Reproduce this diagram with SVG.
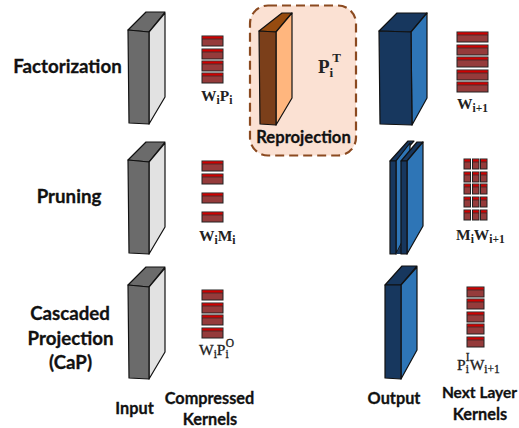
<svg xmlns="http://www.w3.org/2000/svg" width="519" height="428" viewBox="0 0 519 428">
<style>
.l{font-family:Lato,"Open Sans",sans-serif;font-weight:700;fill:#111;stroke:#111;stroke-width:.3;font-size:18.7px;text-anchor:middle}
.c{font-size:16.300px}
.m{font-family:"Liberation Serif",serif;font-weight:700;fill:#222;font-size:15.500px}
.r{font-weight:400;stroke:#222;stroke-width:.3;font-size:15.500px}
.s{font-size:11.500px}
.e{stroke:#111;stroke-width:1.2;stroke-linejoin:round}
.gf{fill:#6b6b6b}.gt{fill:#6b6b6b}.gs{fill:#e2e2e2}
.bf{fill:#17375e}.bt{fill:#17375e}.bs{fill:#2e75b6}
.kb{fill:#953b3b;stroke:#222;stroke-width:1}
.kt{fill:#d00000}
</style>
<defs>
<g id="k"><rect class="kb" width="21" height="10"/><rect class="kt" x="0.5" y="0.5" width="20" height="2.200"/><path d="M0 3H21" stroke="#222" stroke-width=".6"/></g>
<g id="kl"><rect class="kb" width="31" height="10"/><rect class="kt" x="0.5" y="0.5" width="30" height="2.200"/><path d="M0 3H31" stroke="#222" stroke-width=".6"/></g>
<g id="kn"><rect class="kb" width="17" height="10"/><rect class="kt" x="0.5" y="0.5" width="16" height="2.200"/><path d="M0 3H17" stroke="#222" stroke-width=".6"/></g>
<g id="ks"><rect class="kb" width="6.500" height="10"/><rect class="kt" x="0.5" y="0.5" width="5.500" height="2.200"/><path d="M0 3H6.500" stroke="#222" stroke-width=".6"/></g>
<g id="ksr"><use href="#ks" x="0"/><use href="#ks" x="8.500"/><use href="#ks" x="16.500"/></g>
<g id="gb">
<path class="gt e" d="M128 30L146 12H165L149 32Z"/>
<path class="gs e" d="M149 32L165 13V97L149 124Z"/>
<path class="gf e" d="M128 30L149 32V124L129 123Z"/>
</g>
</defs>
<g id="row-labels">
<text class="l" x="67.500" y="73">Factorization</text>
<text class="l" x="69" y="203">Pruning</text>
<text class="l" x="70" y="320">Cascaded</text>
<text class="l" x="70.500" y="345">Projection</text>
<text class="l" x="70.500" y="369">(CaP)</text>
</g>
<g id="input-factorization"><use href="#gb"/></g>
<g id="input-pruning"><use href="#gb" y="130"/></g>
<g id="input-cap"><use href="#gb" y="255"/></g>
<g id="kernels-wp">
<use href="#k" x="202" y="36"/><use href="#k" x="202" y="49"/><use href="#k" x="202" y="61"/><use href="#k" x="202" y="73"/>
<text class="m" x="201" y="101">W<tspan class="s" dy="3">i</tspan><tspan dy="-3">P</tspan><tspan class="s" dy="3">i</tspan></text>
</g>
<g id="kernels-wm">
<use href="#k" x="202" y="161"/><use href="#k" x="202" y="174"/><use href="#k" x="202" y="193"/><use href="#k" x="202" y="212"/>
<text class="m" x="199" y="241">W<tspan class="s" dy="3">i</tspan><tspan dy="-3">M</tspan><tspan class="s" dy="3">i</tspan></text>
</g>
<g id="kernels-wpo">
<use href="#k" x="202" y="290"/><use href="#k" x="202" y="303"/><use href="#k" x="202" y="315"/><use href="#k" x="202" y="328"/>
<text class="m r" x="199" y="355">W<tspan class="s" dy="3">i</tspan><tspan dy="-3">P</tspan><tspan class="s" dy="3">i</tspan><tspan class="s" dx="-3" dy="-11">O</tspan></text>
</g>
<g id="reprojection">
<rect x="250" y="5.500" width="106" height="150" rx="18" fill="#fbe1d3" stroke="#8b4a20" stroke-width="2.200" stroke-dasharray="9 5"/>
<path class="e" fill="#964b0f" d="M259 31L282 13H292L276 32Z"/>
<path class="e" fill="#ffb67e" d="M276 32L292 13V98L276 125Z"/>
<path class="e" fill="#7b3f1a" d="M259 31L276 32V125L260 124Z"/>
<text class="m" x="318" y="73" style="font-size:19px">P<tspan style="font-size:13px" dy="4">i</tspan><tspan style="font-size:13px" dy="-15" dx="-1">T</tspan></text>
<text class="l" x="303.500" y="143" style="font-size:16.600px">Reprojection</text>
</g>
<g id="output-factorization">
<path class="bt e" d="M379 31L397 13H427L411 32Z"/>
<path class="bs e" d="M411 32L427 13V98L412 125Z"/>
<path class="bf e" d="M379 31L411 32L412 125L380 124Z"/>
</g>
<g id="output-pruning">
<path class="bt e" d="M390 161L408 141H414L396 161Z"/>
<path class="bs e" d="M396 161L410 143V226L396 254Z"/>
<path class="bf e" d="M390 161L396 161V254H390Z"/>
<path class="bf" d="M396 254L401 245V254Z"/>
<path class="bt e" d="M401 161L417 142H423L407 161Z"/>
<path class="bs e" d="M407 161L423 142V226L407 254Z"/>
<path class="bf e" d="M401 161H407V254H401Z"/>
</g>
<g id="output-cap">
<path class="bt e" d="M385 285L402 266H417L401 285Z"/>
<path class="bs e" d="M401 285L417 267V350L401 379Z"/>
<path class="bf e" d="M385 285H401V379L385 378Z"/>
</g>
<g id="kernels-w">
<use href="#kl" x="457" y="32"/><use href="#kl" x="457" y="45"/><use href="#kl" x="457" y="57"/><use href="#kl" x="457" y="70"/><use href="#kl" x="457" y="82"/>
<text class="m" x="457" y="109">W<tspan class="s" dy="3">i+1</tspan></text>
</g>
<g id="kernels-mw">
<use href="#ksr" x="464" y="159"/><use href="#ksr" x="464" y="172"/><use href="#ksr" x="464" y="184"/><use href="#ksr" x="464" y="197"/><use href="#ksr" x="464" y="210"/>
<text class="m" x="456" y="240">M<tspan class="s" dy="3">i</tspan><tspan dy="-3">W</tspan><tspan class="s" dy="3">i+1</tspan></text>
</g>
<g id="kernels-pw">
<use href="#kn" x="467" y="287"/><use href="#kn" x="467" y="299"/><use href="#kn" x="467" y="312"/><use href="#kn" x="467" y="324"/><use href="#kn" x="467" y="337"/>
<text class="m r" x="457" y="370">P<tspan class="s" dy="3">i</tspan><tspan class="s" dx="-3" dy="-12">I</tspan><tspan dy="9">W</tspan><tspan class="s" dy="3">i+1</tspan></text>
</g>
<g id="column-labels">
<text class="l c" x="134.500" y="414">Input</text>
<text class="l c" x="209.500" y="404">Compressed</text>
<text class="l c" x="210" y="425">Kernels</text>
<text class="l c" x="394" y="404">Output</text>
<text class="l c" x="479.500" y="398" style="font-size:15.500px">Next Layer</text>
<text class="l c" x="480" y="420">Kernels</text>
</g>
</svg>
